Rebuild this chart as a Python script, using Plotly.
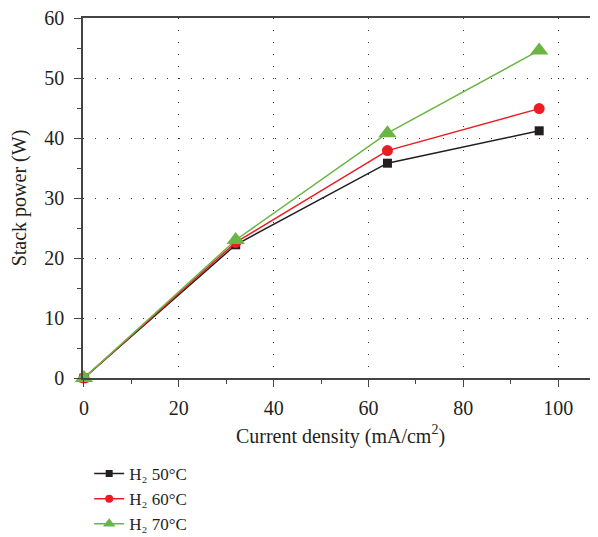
import plotly.graph_objects as go

current_density = [0, 32, 64, 96]
power_50 = [0, 22.2, 35.8, 41.2]
power_60 = [0, 22.6, 37.9, 44.9]
power_70 = [0, 23.0, 40.8, 54.6]

series_names = ["H₂ 50°C", "H₂ 60°C", "H₂ 70°C"]
colors = ["#231f20", "#ed1c24", "#6ab545"]
symbols = ["square", "circle", "triangle-up"]
sizes = [9, 11, 16]
legend_sizes = [7, 8, 11]

FONT = "Liberation Serif"

fig = go.Figure()
for name, ys, c, s, sz in zip(series_names, [power_50, power_60, power_70], colors, symbols, sizes):
    fig.add_trace(go.Scatter(
        x=current_density, y=ys, name=name, mode="lines+markers",
        line=dict(color=c, width=1.5),
        marker=dict(symbol=s, size=sz, color=c),
        cliponaxis=False, showlegend=False,
    ))
# legend entries with small symbols
for name, c, s, lsz in zip(series_names, colors, symbols, legend_sizes):
    fig.add_trace(go.Scatter(
        x=[None], y=[None], name=name, mode="lines+markers",
        line=dict(color=c, width=1.5),
        marker=dict(symbol=s, size=lsz, color=c),
    ))

axis_common = dict(
    showline=True, linecolor="#444", linewidth=1.5,
    ticks="outside", ticklen=7, tickwidth=1.2, tickcolor="#444",
    showgrid=True, gridcolor="#333", gridwidth=1, griddash="1px,11px",
    zeroline=False, automargin=False, ticklabeloverflow="allow",
    tickfont=dict(family=FONT, size=20, color="#231f20"),
    title_font=dict(family=FONT, size=20, color="#231f20"),
)

fig.update_xaxes(
    range=[-0.2, 108.4], tickmode="array", tickvals=[0, 20, 40, 60, 80, 100],
    minor=dict(ticks="outside", ticklen=4, tickcolor="#444", dtick=10, tick0=0, showgrid=False),
    mirror=True, ticklabelstandoff=4,
    title_text="Current density (mA/cm<sup>2</sup>)", title_standoff=11,
    **axis_common,
)
fig.update_yaxes(
    range=[0, 60], tickmode="array", tickvals=[0, 10, 20, 30, 40, 50, 60],
    minor=dict(ticks="outside", ticklen=4, tickcolor="#444", dtick=5, tick0=0, showgrid=False),
    ticklabelstandoff=6,
    title_text="Stack power (W)", title_standoff=12,
    **axis_common,
)

fig.update_layout(
    width=590, height=529,
    margin=dict(l=75, r=0, t=10, b=159),
    plot_bgcolor="white", paper_bgcolor="white",
    showlegend=True,
    legend=dict(
        xref="paper", yref="container",
        x=0.012, y=0.153, xanchor="left", yanchor="top",
        font=dict(family=FONT, size=17, color="#231f20"),
        bgcolor="rgba(0,0,0,0)", tracegroupgap=0,
    ),
)

fig.write_html("out.html")
